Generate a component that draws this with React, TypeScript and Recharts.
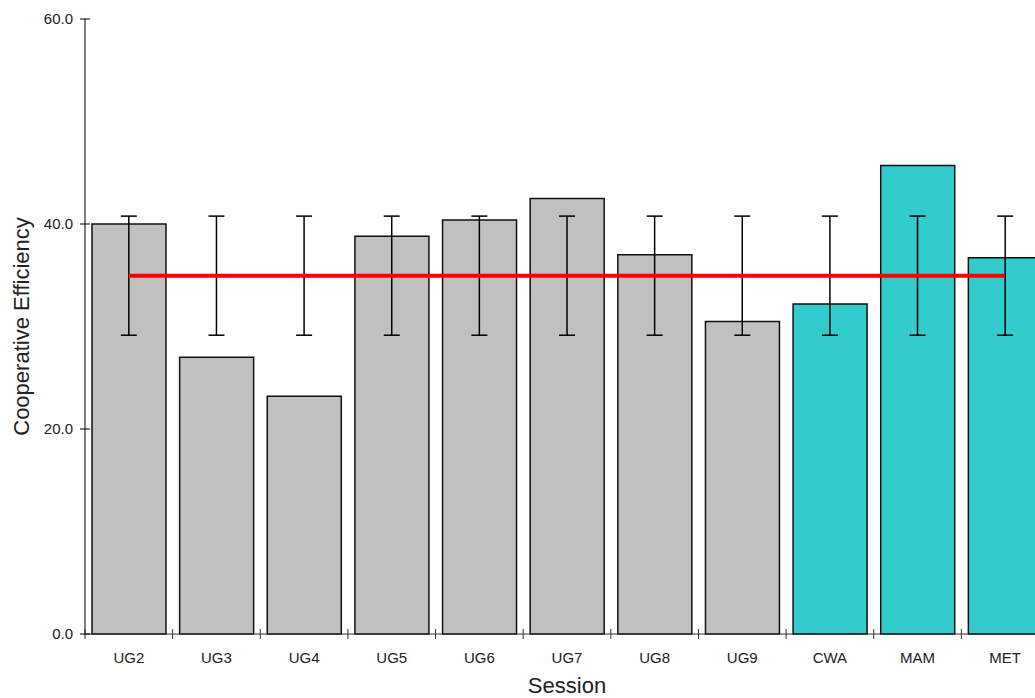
import { ComposedChart, Bar, Line, Cell, XAxis, YAxis, ErrorBar, Label } from 'recharts';

const sessions = ['UG2', 'UG3', 'UG4', 'UG5', 'UG6', 'UG7', 'UG8', 'UG9', 'CWA', 'MAM', 'MET'];
const efficiency = [40.0, 27.0, 23.2, 38.8, 40.4, 42.5, 37.0, 30.5, 32.2, 45.7, 36.7];
const groups = ['UG', 'UG', 'UG', 'UG', 'UG', 'UG', 'UG', 'UG', 'other', 'other', 'other'];
const yTicks = [0, 20, 40, 60];
const meanEff = 34.96;
const errEff = 5.81;

const groupColor: Record<string, string> = { UG: '#C0C0C0', other: '#33CCCC' };

const CHART_W = 1049;
const CHART_H = 698;
const Y_AXIS_W = 85;
const PLOT_W = CHART_W - Y_AXIS_W;
const BAND = PLOT_W / sessions.length;
const FONT = '"Liberation Sans", Arial, sans-serif';

const data = sessions.map((s, i) => ({
  session: s,
  value: efficiency[i],
  group: groups[i],
  mean: meanEff,
  err: errEff,
}));

const YTick = ({ x, y, payload }: any) => {
  const axisX = x + 5 + 7;
  return (
    <g>
      <line x1={axisX - 5} x2={axisX + 5} y1={y} y2={y} stroke="#000" strokeWidth={1} />
      <text x={x} y={y} dy="0.36em" textAnchor="end" fontSize={15} fontFamily={FONT} fill="#222">
        {Number(payload.value).toFixed(1)}
      </text>
    </g>
  );
};

const XTick = ({ x, y, payload }: any) => {
  const axisY = y - 5;
  const left = x - BAND / 2;
  return (
    <g>
      <line x1={left} x2={left} y1={axisY - 5} y2={axisY + 5} stroke="#333" strokeWidth={1} />
      <text x={x} y={axisY + 29} textAnchor="middle" fontSize={15} fontFamily={FONT} fill="#222">
        {payload.value}
      </text>
    </g>
  );
};

export default function App() {
  return (
    <div style={{ position: 'fixed', left: 0, top: 0, width: 1035, height: 698, overflow: 'hidden', background: '#fff' }}>
      <ComposedChart
        width={CHART_W}
        height={CHART_H}
        data={data}
        margin={{ top: 19, right: 0, left: 0, bottom: 0 }}
        barCategoryGap={7}
      >
        <XAxis
          dataKey="session"
          height={64}
          tickSize={5}
          tickMargin={0}
          tickLine={false}
          tick={<XTick />}
          axisLine={{ stroke: '#333', strokeWidth: 1 }}
          interval={0}
        >
          <Label
            content={({ viewBox }: any) => (
              <text
                x={viewBox.x + viewBox.width / 2}
                y={viewBox.y + 59}
                textAnchor="middle"
                fontSize={22}
                fontFamily={FONT}
                fill="#222"
              >
                Session
              </text>
            )}
          />
        </XAxis>
        <YAxis
          width={Y_AXIS_W}
          domain={[0, 60]}
          ticks={yTicks}
          tickSize={5}
          tickMargin={7}
          tickLine={false}
          tick={<YTick />}
          axisLine={{ stroke: '#000', strokeWidth: 1 }}
        >
          <Label
            content={({ viewBox }: any) => {
              const cx = viewBox.x + 29;
              const cy = viewBox.y + viewBox.height / 2;
              return (
                <text
                  x={cx}
                  y={cy}
                  transform={`rotate(-90 ${cx} ${cy})`}
                  textAnchor="middle"
                  fontSize={22}
                  fontFamily={FONT}
                  fill="#222"
                >
                  Cooperative Efficiency
                </text>
              );
            }}
          />
        </YAxis>
        <Bar dataKey="value" stroke="#111" strokeWidth={1.5} isAnimationActive={false}>
          {data.map((d) => (
            <Cell key={d.session} fill={groupColor[d.group]} />
          ))}
        </Bar>
        <Line
          type="linear"
          dataKey="mean"
          stroke="#FF0000"
          strokeWidth={4}
          dot={false}
          activeDot={false}
          isAnimationActive={false}
        >
          <ErrorBar dataKey="err" width={8} stroke="#000" strokeWidth={1.5} direction="y" />
        </Line>
      </ComposedChart>
    </div>
  );
}
